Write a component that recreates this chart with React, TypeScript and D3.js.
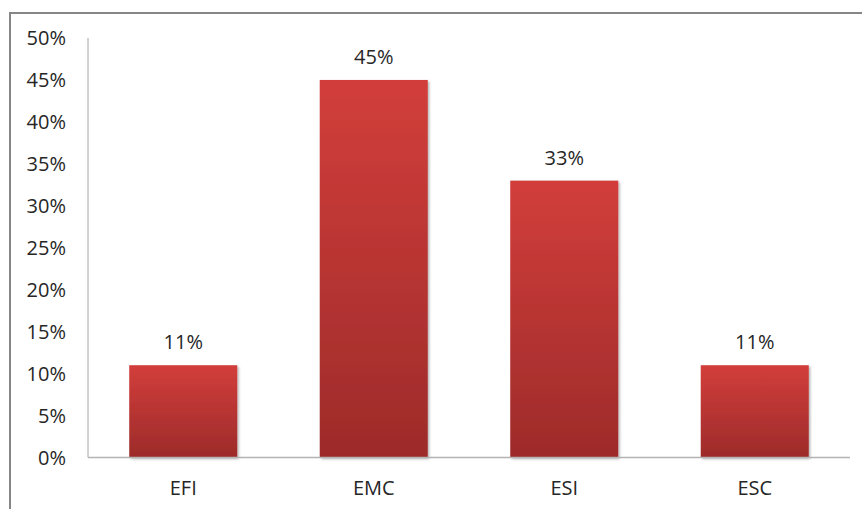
import React from "react";
import * as d3 from "d3";

const categories = ["EFI", "EMC", "ESI", "ESC"];
const values = [0.11, 0.45, 0.33, 0.11];
const yTicks = [0, 0.05, 0.1, 0.15, 0.2, 0.25, 0.3, 0.35, 0.4, 0.45, 0.5];

const W = 862;
const H = 509;
const FONT = "'Open Sans', 'Liberation Sans', sans-serif";
const FS = 20;

export default function App() {
  const left = 88;
  const right = 850;
  const top = 38;
  const bottom = 457.5;

  const x = d3
    .scaleBand<string>()
    .domain(categories)
    .range([left, right])
    .paddingInner(0.433)
    .paddingOuter(0.2165);
  const y = d3.scaleLinear().domain([0, 0.5]).range([bottom, top]);
  const fmt = d3.format(".0%");

  return (
    <svg
      width={W}
      height={H}
      style={{ position: "absolute", left: 0, top: 0, background: "#fff" }}
    >
      <defs>
        <linearGradient id="barFill" x1="0" y1="0" x2="0" y2="1">
          <stop offset="0%" stopColor="#d23e3b" />
          <stop offset="100%" stopColor="#9d2b2a" />
        </linearGradient>
        <filter id="barShadow" x="-10%" y="-10%" width="130%" height="130%">
          <feDropShadow dx="1.5" dy="1.5" stdDeviation="1.2" floodColor="#000" floodOpacity="0.3" />
        </filter>
      </defs>

      {/* chart frame */}
      <rect x={10} y={13} width={870} height={520} fill="none" stroke="#868686" strokeWidth={2} />

      {/* y axis labels */}
      {yTicks.map((t) => (
        <text
          key={t}
          x={66}
          y={y(t)}
          dy="0.36em"
          textAnchor="end"
          fontFamily={FONT}
          fontSize={FS}
          fill="#262626"
        >
          {fmt(t)}
        </text>
      ))}

      {/* bars */}
      {categories.map((c, i) => (
        <rect
          key={c}
          x={x(c)}
          y={y(values[i])}
          width={x.bandwidth()}
          height={bottom - y(values[i])}
          fill="url(#barFill)"
          filter="url(#barShadow)"
        />
      ))}

      {/* axes */}
      <line x1={left} x2={left} y1={top} y2={bottom} stroke="#a6a6a6" strokeWidth={1} />
      <line x1={left} x2={right} y1={bottom} y2={bottom} stroke="#b3b3b3" strokeWidth={1.5} />

      {/* value labels */}
      {categories.map((c, i) => (
        <text
          key={c}
          x={(x(c) as number) + x.bandwidth() / 2}
          y={y(values[i]) - 23}
          dy="0.36em"
          textAnchor="middle"
          fontFamily={FONT}
          fontSize={FS}
          fill="#262626"
        >
          {fmt(values[i])}
        </text>
      ))}

      {/* category labels */}
      {categories.map((c) => (
        <text
          key={c}
          x={(x(c) as number) + x.bandwidth() / 2}
          y={488}
          dy="0.36em"
          textAnchor="middle"
          fontFamily={FONT}
          fontSize={FS}
          fill="#262626"
        >
          {c}
        </text>
      ))}
    </svg>
  );
}
